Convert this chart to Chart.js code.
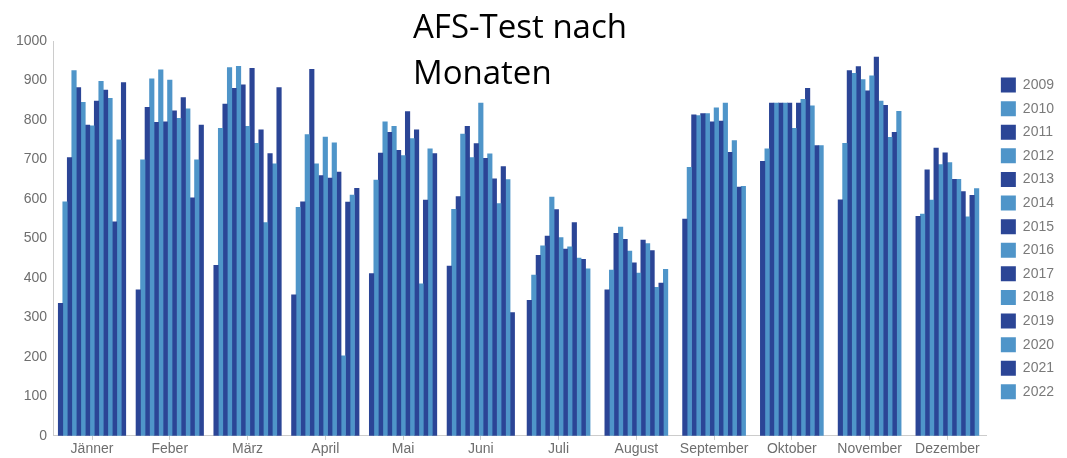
<!DOCTYPE html>
<html>
<head>
<meta charset="utf-8">
<script src="https://cdn.jsdelivr.net/npm/chart.js@4"></script>
<style>
  html, body { margin: 0; padding: 0; background: #fff; }
  #wrap { position: relative; width: 1067px; height: 458px; }
  #title {
    position: absolute; left: 413px; top: 3px;
    font-family: "Open Sans", sans-serif; font-size: 33px; line-height: 46px;
    color: #000; white-space: nowrap;
  }
</style>
</head>
<body>
<div id="wrap">
  <canvas id="afsChart" width="1067" height="458"></canvas>
  <div id="title">AFS-Test nach<br>Monaten</div>
</div>
<script>
const months = ["Jänner", "Feber", "März", "April", "Mai", "Juni", "Juli", "August", "September", "Oktober", "November", "Dezember"];
const years = ["2009", "2010", "2011", "2012", "2013", "2014", "2015", "2016", "2017", "2018", "2019", "2020", "2021", "2022", "2023"];

// one value per year (2009 ...), per month
const jaenner = [336, 593, 705, 925, 882, 845, 787, 785, 848, 898, 876, 855, 542, 750, 895];
const feber = [370, 699, 832, 904, 794, 927, 795, 901, 823, 804, 857, 828, 603, 699, 787];
const maerz = [432, 779, 840, 933, 880, 936, 889, 784, 931, 741, 775, 540, 715, 689, 882];
const april = [357, 579, 593, 763, 928, 689, 659, 757, 653, 742, 668, 203, 592, 610, 627];
const mai = [411, 648, 716, 795, 769, 784, 723, 710, 821, 753, 775, 385, 597, 727, 715];
const juni = [430, 574, 606, 764, 784, 705, 740, 843, 703, 714, 651, 588, 682, 649, 312];
const juli = [343, 407, 457, 481, 506, 605, 573, 502, 473, 479, 540, 450, 447, 423];
const august = [370, 420, 513, 529, 498, 468, 438, 412, 496, 487, 469, 376, 387, 422];
const september = [549, 680, 813, 811, 816, 816, 795, 831, 797, 843, 718, 748, 630, 632];
const oktober = [695, 727, 843, 843, 843, 843, 843, 779, 843, 852, 880, 836, 735, 735];
const november = [598, 741, 925, 918, 935, 902, 874, 912, 959, 848, 837, 756, 769, 822];
const dezember = [556, 562, 674, 597, 729, 687, 717, 692, 650, 650, 619, 555, 609, 626];

const byMonth = [jaenner, feber, maerz, april, mai, juni, juli, august, september, oktober, november, dezember];

const dark = "#2b4596";
const light = "#4f95c9";

const datasets = years.map((year, i) => ({
  label: year,
  data: byMonth.map((m) => (m[i] === undefined ? null : m[i])),
  backgroundColor: i % 2 === 0 ? dark : light,
  borderWidth: 0,
  barThickness: 4.5,
  skipNull: true,
}));

const axisFont = { family: "'Liberation Sans', Arial, sans-serif", size: 14 };

new Chart(document.getElementById("afsChart"), {
  type: "bar",
  data: { labels: months, datasets },
  options: {
    responsive: false,
    animation: false,
    layout: { padding: { top: 41, left: 10, right: 3, bottom: 0 } },
    scales: {
      x: {
        grid: { drawOnChartArea: false, drawTicks: true, tickLength: 4, offset: false, color: "#cccccc" },
        border: { color: "#cccccc" },
        ticks: { color: "#6e6e6e", font: { ...axisFont, lineHeight: 1.15 }, padding: 1, maxRotation: 0 },
      },
      y: {
        min: 0,
        max: 1000,
        grid: { drawOnChartArea: false, drawTicks: false },
        border: { color: "#cccccc" },
        ticks: { stepSize: 100, color: "#6e6e6e", font: axisFont, padding: 6, callback: (v) => String(v) },
      },
      gap: {
        position: "right",
        display: true,
        grid: { display: false },
        border: { display: false },
        ticks: { display: false },
        afterFit: (s) => { s.width = 6; },
      },
    },
    plugins: {
      legend: {
        display: true,
        position: "right",
        fullSize: false,
        labels: {
          boxWidth: 15,
          boxHeight: 15,
          padding: 8.6,
          color: "#7a7a7a",
          font: axisFont,
          filter: (item) => item.text !== "2023",
        },
      },
      tooltip: { enabled: false },
    },
  },
});
</script>
</body>
</html>
